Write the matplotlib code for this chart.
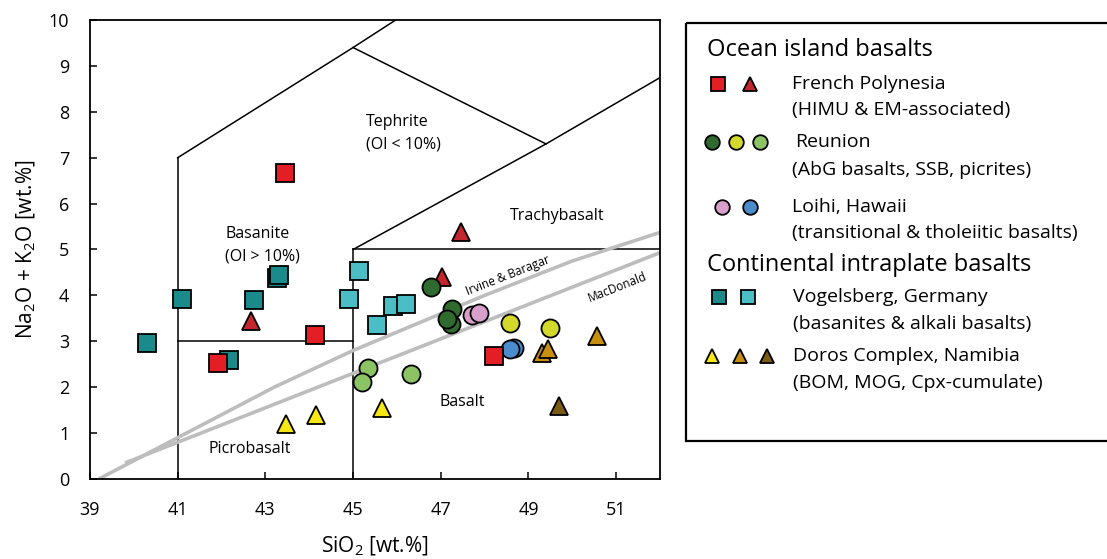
import matplotlib
matplotlib.use('Agg')
from matplotlib import pyplot as plt
from matplotlib import ticker
from matplotlib.patches import Rectangle

plt.rcParams['font.family'] = ['Open Sans', 'DejaVu Sans']
plt.rcParams['mathtext.fontset'] = 'custom'
plt.rcParams['mathtext.rm'] = 'Open Sans'

# French Polynesia
fp_sq_x = [43.45, 41.91, 44.14, 48.22]
fp_sq_y = [6.67, 2.52, 3.13, 2.67]
fp_tri_x = [42.67, 47.46, 47.02]
fp_tri_y = [3.45, 5.38, 4.41]

# Reunion
re_abg_x = [46.78, 47.26, 47.23, 47.15]
re_abg_y = [4.19, 3.70, 3.38, 3.48]
re_ssb_x = [48.58, 49.49]
re_ssb_y = [3.39, 3.28]
re_pic_x = [45.35, 45.20, 46.33]
re_pic_y = [2.41, 2.11, 2.29]

# Loihi
lo_tr_x = [47.72, 47.87]
lo_tr_y = [3.57, 3.61]
lo_th_x = [48.66, 48.59]
lo_th_y = [2.86, 2.83]

# Vogelsberg
vo_bas_x = [40.31, 41.10, 42.75, 43.26, 43.30, 42.18]
vo_bas_y = [2.97, 3.92, 3.89, 4.37, 4.44, 2.59]
vo_alk_x = [45.14, 44.90, 45.55, 45.90, 46.20]
vo_alk_y = [4.54, 3.93, 3.35, 3.77, 3.81]

# Doros
do_bom_x = [43.46, 44.15, 45.67]
do_bom_y = [1.20, 1.39, 1.55]
do_mog_x = [50.57, 49.32, 49.45]
do_mog_y = [3.12, 2.74, 2.83]
do_cpx_x = [49.70]
do_cpx_y = [1.58]

# TAS field boundaries (Le Bas et al. 1986)
tas_lines = [
    ([41, 41], [0, 7]),
    ([41, 45, 48.4], [7, 9.4, 11.5]),
    ([41, 45], [3, 3]),
    ([45, 45], [0, 5]),
    ([45, 52], [5, 5]),
    ([45, 49.4, 53], [5, 7.3, 9.3]),
    ([45, 49.4], [9.4, 7.3]),
]
irvine_x = [39.2, 40, 43.2, 45, 48, 50, 53.7]
irvine_y = [0, 0.4, 2, 2.8, 4, 4.75, 5.9]
macdonald_x = [39.8, 65.5]
macdonald_y = [0.35, 10]

RED = '#e41e25'
DRED = '#c1272d'
DGREEN = '#2f6b2e'
YGREEN = '#d3d92b'
LGREEN = '#8cc365'
PINK = '#d89fcb'
BLUE = '#4b8dcc'
TEAL = '#1a8a8a'
CYAN = '#4bbdc5'
YELLOW = '#f6e813'
OCHRE = '#c68f0f'
BROWN = '#7a5a14'

fig = plt.figure(figsize=(11.07, 5.59), dpi=100)
ax = fig.add_axes([90 / 1107, 1 - 479 / 559, 570 / 1107, 459 / 559])

for lx, ly in tas_lines:
    ax.plot(lx, ly, color='black', linewidth=1.1, zorder=1)
ax.plot(irvine_x, irvine_y, color='#bdbdbd', linewidth=2.6, zorder=2,
        solid_capstyle='butt')
ax.plot(macdonald_x, macdonald_y, color='#bdbdbd', linewidth=2.6, zorder=2,
        solid_capstyle='butt')

ms = 13
kw = dict(linestyle='none', markeredgecolor='black', markeredgewidth=1.3,
          markersize=ms, zorder=3)
ax.plot(vo_bas_x, vo_bas_y, 's', color=TEAL, **kw)
ax.plot(vo_alk_x, vo_alk_y, 's', color=CYAN, **kw)
ax.plot(do_bom_x, do_bom_y, '^', color=YELLOW, **kw)
ax.plot(do_mog_x, do_mog_y, '^', color=OCHRE, **kw)
ax.plot(do_cpx_x, do_cpx_y, '^', color=BROWN, **kw)
ax.plot(fp_tri_x, fp_tri_y, '^', color=DRED, **kw)
ax.plot(re_abg_x, re_abg_y, 'o', color=DGREEN, **kw)
ax.plot(re_ssb_x, re_ssb_y, 'o', color=YGREEN, **kw)
ax.plot(re_pic_x, re_pic_y, 'o', color=LGREEN, **kw)
ax.plot(lo_tr_x, lo_tr_y, 'o', color=PINK, **kw)
ax.plot(lo_th_x, lo_th_y, 'o', color=BLUE, **kw)
ax.plot(fp_sq_x, fp_sq_y, 's', color=RED, **kw)

fs_field = 11.5
ax.text(45.3, 7.78, 'Tephrite', fontsize=fs_field, va='center')
ax.text(45.3, 7.28, '(Ol < 10%)', fontsize=fs_field, va='center')
ax.text(42.08, 5.34, 'Basanite', fontsize=fs_field, va='center')
ax.text(42.08, 4.84, '(Ol > 10%)', fontsize=fs_field, va='center')
ax.text(48.58, 5.73, 'Trachybasalt', fontsize=fs_field, va='center')
ax.text(46.98, 1.68, 'Basalt', fontsize=fs_field, va='center')
ax.text(41.71, 0.65, 'Picrobasalt', fontsize=fs_field, va='center')
ax.text(48.54, 4.44, 'Irvine & Baragar', fontsize=8.5, rotation=21.5,
        ha='center', va='center', rotation_mode='anchor')
ax.text(51.03, 4.18, 'MacDonald', fontsize=8.5, rotation=21.5,
        ha='center', va='center', rotation_mode='anchor')

ax.set_xlim(39, 52)
ax.set_ylim(0, 10)
ax.xaxis.set_major_locator(ticker.FixedLocator([39, 41, 43, 45, 47, 49, 51]))
ax.yaxis.set_major_locator(ticker.MultipleLocator(1))
ax.tick_params(direction='in', length=5, width=1.1, labelsize=13)
ax.tick_params(axis='x', pad=16)
ax.tick_params(axis='y', pad=15)
for side in ['top', 'right', 'bottom', 'left']:
    ax.spines[side].set_linewidth(1.3)
ax.set_xlabel('SiO$_2$ [wt.%]', fontsize=15, labelpad=11)
ax.set_ylabel('Na$_2$O + K$_2$O [wt.%]', fontsize=15, labelpad=8)

# legend panel, drawn in pixel coordinates
lax = fig.add_axes([0, 0, 1, 1])
lax.set_xlim(0, 1107)
lax.set_ylim(559, 0)
lax.axis('off')
lax.add_patch(Rectangle((686, 23), 440, 418, fill=False, linewidth=1.6,
                        edgecolor='black'))

lkw = dict(linestyle='none', markeredgecolor='black', markeredgewidth=1.3,
           markersize=10.5)
fs_head = 17
fs_leg = 14
lax.text(707, 50, 'Ocean island basalts', fontsize=fs_head, va='center')
lax.plot([718], [84], 's', color=RED, **lkw)
lax.plot([750], [84], '^', color=DRED, **lkw)
lax.text(792, 84, 'French Polynesia', fontsize=fs_leg, va='center')
lax.text(792, 110, '(HIMU & EM-associated)', fontsize=fs_leg, va='center')
lax.plot([712], [142], 'o', color=DGREEN, **lkw)
lax.plot([736], [142], 'o', color=YGREEN, **lkw)
lax.plot([760], [142], 'o', color=LGREEN, **lkw)
lax.text(795, 142, 'Reunion', fontsize=fs_leg, va='center')
lax.text(792, 170, '(AbG basalts, SSB, picrites)', fontsize=fs_leg, va='center')
lax.plot([722], [207], 'o', color=PINK, **lkw)
lax.plot([750], [207], 'o', color=BLUE, **lkw)
lax.text(792, 207, 'Loihi, Hawaii', fontsize=fs_leg, va='center')
lax.text(792, 233, '(transitional & tholeiitic basalts)', fontsize=fs_leg,
         va='center')
lax.text(707, 265, 'Continental intraplate basalts', fontsize=fs_head,
         va='center')
lax.plot([719], [297], 's', color=TEAL, **lkw)
lax.plot([748], [297], 's', color=CYAN, **lkw)
lax.text(793, 297, 'Vogelsberg, Germany', fontsize=fs_leg, va='center')
lax.text(793, 324, '(basanites & alkali basalts)', fontsize=fs_leg, va='center')
lax.plot([712], [356], '^', color=YELLOW, **lkw)
lax.plot([740], [356], '^', color=OCHRE, **lkw)
lax.plot([767], [356], '^', color=BROWN, **lkw)
lax.text(793, 356, 'Doros Complex, Namibia', fontsize=fs_leg, va='center')
lax.text(793, 383, '(BOM, MOG, Cpx-cumulate)', fontsize=fs_leg, va='center')

fig.savefig('out.png', dpi=100)
